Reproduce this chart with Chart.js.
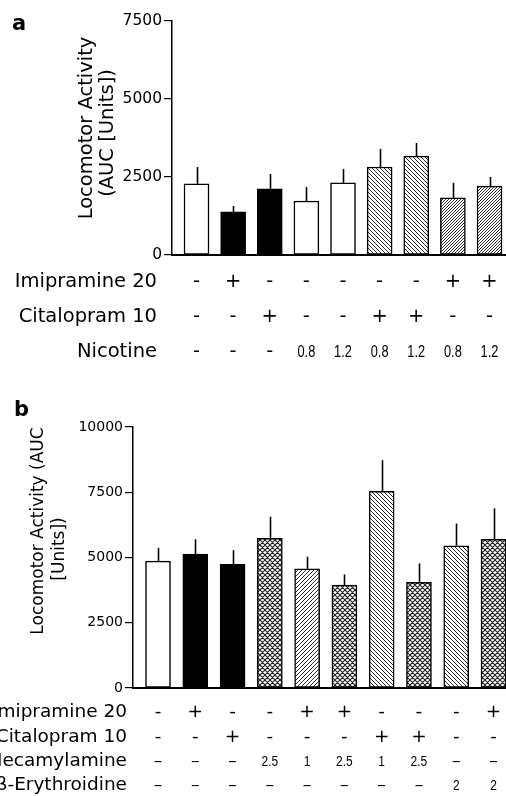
<!DOCTYPE html>
<html><head><meta charset="utf-8">
<script src="https://cdn.jsdelivr.net/npm/chart.js@4.4.1/dist/chart.umd.min.js"></script>
<style>
html,body{margin:0;padding:0;background:#fff;overflow:hidden;width:506px;height:796px;}
#ca{position:absolute;left:0;top:0;}
#cb{position:absolute;left:0;top:380px;}
</style></head><body>
<canvas id="ca" width="506" height="380"></canvas>
<canvas id="cb" width="506" height="416"></canvas>
<script>
// ---------- Panel a data ----------
const aGroups = ['Vehicle','Imipramine','Citalopram','Nicotine 0.8','Nicotine 1.2','Cit+Nic 0.8','Cit+Nic 1.2','Imi+Nic 0.8','Imi+Nic 1.2'];
const aMeans = [2280, 1380, 2120, 1730, 2310, 2820, 3170, 1830, 2210];
const aSEM   = [540, 190, 480, 450, 450, 580, 420, 480, 290];
const aFills = ['white','black','black','white','white','back','back','fwd','fwd'];
const aImipramine = ['-','+','-','-','-','-','-','+','+'];
const aCitalopram = ['-','-','+','-','-','+','+','-','-'];
const aNicotine   = ['-','-','-','0.8','1.2','0.8','1.2','0.8','1.2'];
const aTicks = [0, 2500, 5000, 7500];

// ---------- Panel b data ----------
const bGroups = ['Vehicle','Imipramine','Citalopram','Mec 2.5','Imi+Mec 1','Imi+Mec 2.5','Cit+Mec 1','Cit+Mec 2.5','DHbE 2','Imi+DHbE 2'];
const bMeans = [4860, 5130, 4740, 5730, 4570, 3940, 7540, 4050, 5450, 5700];
const bSEM   = [510, 570, 540, 830, 460, 410, 1190, 720, 850, 1180];
const bFills = ['white','black','black','cross','fwd','cross','back','cross','back','cross'];
const bImipramine   = ['-','+','-','-','+','+','-','-','-','+'];
const bCitalopram   = ['-','-','+','-','-','-','+','+','-','-'];
const bMecamylamine = ['-','-','-','2.5','1','2.5','1','2.5','-','-'];
const bErythroidine = ['-','-','-','-','-','-','-','-','2','2'];
const bTicks = [0, 2500, 5000, 7500, 10000];

const FONT = '"DejaVu Sans", Verdana, sans-serif';
const NARROW = '"Liberation Sans", Arial, sans-serif';

function makePattern(ctx, kind, s, lw, color){
  const c = document.createElement('canvas'); c.width = s; c.height = s;
  const g = c.getContext('2d');
  g.fillStyle = '#fff'; g.fillRect(0,0,s,s);
  g.strokeStyle = color; g.lineWidth = lw;
  g.beginPath();
  for (let k=-1;k<=1;k++){
    if (kind==='fwd'||kind==='cross'){ g.moveTo(k*s, s); g.lineTo(k*s+s, 0); }
    if (kind==='back'||kind==='cross'){ g.moveTo(k*s, 0); g.lineTo(k*s+s, s); }
  }
  g.stroke();
  return ctx.createPattern(c, 'repeat');
}

const errorBars = {
  id:'errorBars',
  afterDatasetsDraw(chart, args, o){
    const meta = chart.getDatasetMeta(0), ys = chart.scales.y, ctx = chart.ctx;
    ctx.save(); ctx.strokeStyle='#000'; ctx.lineWidth=1.6;
    meta.data.forEach((el,i)=>{
      const v = o.means[i], e = o.errs[i];
      ctx.beginPath();
      ctx.moveTo(Math.round(el.x)+0.5, ys.getPixelForValue(v));
      ctx.lineTo(Math.round(el.x)+0.5, ys.getPixelForValue(v+e));
      ctx.stroke();
    });
    ctx.restore();
  }
};

const annot = {
  id:'annot',
  afterDraw(chart, args, o){
    const ctx = chart.ctx, xs = chart.scales.x;
    ctx.save(); ctx.fillStyle='#000';
    ctx.font = o.letter.font; ctx.textAlign='left'; ctx.textBaseline='alphabetic';
    ctx.fillText(o.letter.text, o.letter.x, o.letter.y);
    o.titles.forEach(t=>{
      ctx.save(); ctx.translate(t.x, t.y); ctx.rotate(-Math.PI/2);
      ctx.font = t.font; ctx.textAlign='center'; ctx.textBaseline='middle';
      ctx.fillText(t.text, 0, 0); ctx.restore();
    });
    o.rows.forEach(r=>{
      ctx.font = r.labelFont; ctx.textAlign='right'; ctx.textBaseline='middle';
      ctx.fillText(r.label, o.labelRight, r.y);
      r.values.forEach((v,i)=>{
        const isSym = (v==='-'||v==='+');
        const px = xs.getPixelForValue(i+1);
        ctx.textAlign='center';
        if (isSym && !r.narrowSym){
          ctx.font = r.symFont;
          ctx.fillText(v, px, r.y);
        } else {
          ctx.save(); ctx.translate(px, r.y + 1); ctx.scale(0.8, 1);
          ctx.font = isSym ? r.symFont : r.numFont;
          ctx.fillText(v === '-' ? '\u2013' : v, 0, 0);
          ctx.restore();
        }
      });
    });
    ctx.restore();
  }
};

function buildChart(id, cfg){
  const canvas = document.getElementById(id);
  const ctx = canvas.getContext('2d');
  const fills = {
    white:'#ffffff', black:'#000000',
    back: makePattern(ctx,'back',cfg.pat.back,1,'#333'),
    fwd: makePattern(ctx,'fwd',cfg.pat.fwd,1,'#333'),
    cross: makePattern(ctx,'cross',cfg.pat.cross,1.1,'#222')
  };
  return new Chart(ctx, {
    type:'bar',
    data:{
      datasets:[{
        label: cfg.name,
        data: cfg.means.map((v,i)=>({x:i+1, y:v})),
        backgroundColor: cfg.fills.map(f=>fills[f]),
        borderColor:'#000', borderWidth:1.5, borderSkipped:false,
        barThickness: 25
      }]
    },
    options:{
      responsive:false, animation:false,
      layout:{padding:{top:cfg.top, bottom:cfg.bottom, left:0, right:0}},
      scales:{
        x:{ type:'linear', offset:false, min:cfg.xmin, max:cfg.xmax,
            grid:{display:false, offset:false}, ticks:{display:false},
            border:{display:true, color:'#000', width:2},
            afterFit(s){ s.height = 10; } },
        y:{ min:0, max:cfg.ymax,
            afterBuildTicks(s){ s.ticks = cfg.ticks.map(v=>({value:v})); },
            ticks:{ color:'#000', padding:2, font:{family:FONT, size:cfg.tickSize},
                    callback:(v)=>String(v) },
            grid:{ display:true, drawOnChartArea:false, drawTicks:true, tickLength:8, color:'#000', lineWidth:1.2 },
            border:{ display:true, color:'#000', width:1.5 },
            afterFit(s){ s.width = cfg.axisLeft; } }
      },
      plugins:{
        legend:{display:false}, tooltip:{enabled:false},
        errorBars:{ means:cfg.means, errs:cfg.sem },
        annot: cfg.annot
      }
    },
    plugins:[errorBars, annot]
  });
}

buildChart('ca', {
  name:'Panel a', means:aMeans, sem:aSEM, fills:aFills, ticks:aTicks, ymax:7500,
  top:21, bottom:380-255-10, axisLeft:172, xmin:0.331, xmax:9.45, tickSize:15.5,
  pat:{back:4, fwd:3, cross:5},
  annot:{
    letter:{text:'a', x:12, y:30, font:'bold 21px '+FONT},
    titles:[
      {text:'Locomotor Activity', x:87, y:128, font:'19.5px '+FONT},
      {text:'(AUC [Units])', x:108, y:133, font:'19.5px '+FONT}
    ],
    labelRight:157,
    rows:[
      {label:'Imipramine 20', y:282, values:aImipramine, labelFont:'19.5px '+FONT, symFont:'19.5px '+FONT, numFont:'16px '+NARROW},
      {label:'Citalopram 10', y:317, values:aCitalopram, labelFont:'19.5px '+FONT, symFont:'19.5px '+FONT, numFont:'16px '+NARROW},
      {label:'Nicotine', y:352, values:aNicotine, labelFont:'19.5px '+FONT, symFont:'19.5px '+FONT, numFont:'16px '+NARROW}
    ]
  }
});

buildChart('cb', {
  name:'Panel b', means:bMeans, sem:bSEM, fills:bFills, ticks:bTicks, ymax:10000,
  top:47, bottom:416-308-10, axisLeft:133, xmin:0.329, xmax:10.335, tickSize:14,
  pat:{back:4, fwd:4, cross:5},
  annot:{
    letter:{text:'b', x:14, y:36, font:'bold 21px '+FONT},
    titles:[
      {text:'Locomotor Activity (AUC', x:39, y:151, font:'17px '+FONT},
      {text:'[Units])', x:60, y:169, font:'17px '+FONT}
    ],
    labelRight:127,
    rows:[
      {label:'Imipramine 20', y:332, values:bImipramine, labelFont:'18.5px '+FONT, symFont:'18.5px '+FONT, numFont:'15px '+NARROW},
      {label:'Citalopram 10', y:357, values:bCitalopram, labelFont:'18.5px '+FONT, symFont:'18.5px '+FONT, numFont:'15px '+NARROW},
      {label:'Mecamylamine', y:381, values:bMecamylamine, labelFont:'18.5px '+FONT, symFont:'16px '+NARROW, numFont:'15px '+NARROW, narrowSym:true},
      {label:'\u03B2-Erythroidine', y:405, values:bErythroidine, labelFont:'18.5px '+FONT, symFont:'16px '+NARROW, numFont:'15px '+NARROW, narrowSym:true}
    ]
  }
});
</script>
</body></html>
